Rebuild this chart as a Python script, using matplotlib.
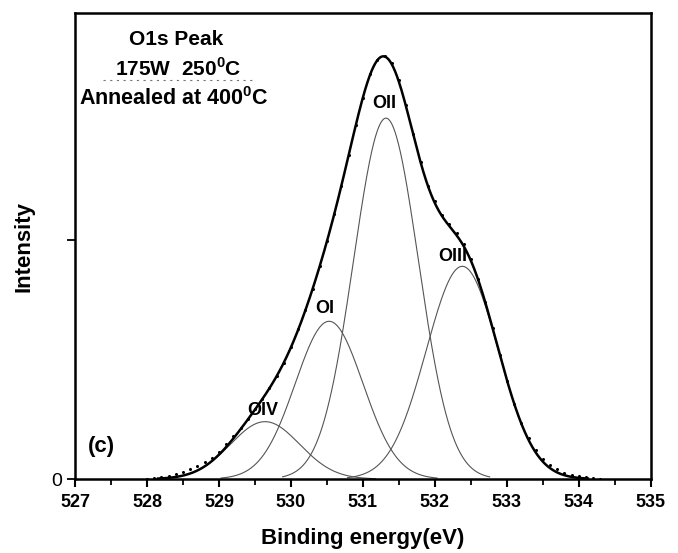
import numpy as np
import matplotlib
matplotlib.use("Agg")
import matplotlib.pyplot as plt
from matplotlib.ticker import MultipleLocator

plt.rcParams['font.family'] = ['Liberation Sans', 'DejaVu Sans']
plt.rcParams['mathtext.fontset'] = 'custom'
plt.rcParams['mathtext.rm'] = 'Liberation Sans'
plt.rcParams['mathtext.bf'] = 'Liberation Sans:bold'

# fitted components (center eV, height, sigma eV)
peak_names = ['OIV', 'OI', 'OII', 'OIII']
peak_centers = [529.64, 530.53, 531.32, 532.38]
peak_heights = [0.24, 0.66, 1.51, 0.89]
peak_sigmas = [0.48, 0.47, 0.45, 0.50]
label_pos = [(529.61, 0.285), (530.47, 0.715), (531.29, 1.57), (532.25, 0.93)]

# measured spectrum (0.1 eV steps)
data_x = np.round(np.arange(528.0, 534.31, 0.1), 1)
data_y = [0.002, 0.004, 0.008, 0.014, 0.020, 0.030, 0.040, 0.055, 0.070, 0.090,
          0.115, 0.145, 0.180, 0.215, 0.252, 0.293, 0.335, 0.382, 0.432, 0.487,
          0.553, 0.626, 0.707, 0.796, 0.893, 0.997, 1.107, 1.225, 1.355, 1.483,
          1.595, 1.693, 1.755, 1.772, 1.742, 1.670, 1.565, 1.445, 1.325, 1.225,
          1.163, 1.105, 1.066, 1.030, 0.985, 0.920, 0.838, 0.740, 0.632, 0.520,
          0.412, 0.315, 0.235, 0.172, 0.122, 0.084, 0.058, 0.040, 0.027, 0.018,
          0.012, 0.007, 0.003, 0.001]

fig = plt.figure(figsize=(6.78, 5.53), dpi=100)
ax = fig.add_axes([0.1106, 0.1338, 0.8494, 0.8427])

x = np.linspace(527.0, 535.0, 1601)
env = np.zeros_like(x)
for c, h, s in zip(peak_centers, peak_heights, peak_sigmas):
    g = h * np.exp(-(x - c) ** 2 / (2 * s ** 2))
    env += g
    m = np.abs(x - c) < 3.2 * s
    ax.plot(x[m], g[m], color='#555555', lw=0.8)

ax.plot(data_x, data_y, ls='none', marker='o', ms=1.2, color='black')
m = env > 0.002
ax.plot(x[m], env[m], color='black', lw=1.8)

for name, (px, py) in zip(peak_names, label_pos):
    ax.text(px, py, name, ha='center', va='center', fontsize=13, fontweight='bold')


def axfrac(px, py):
    # pixel position in the figure -> axes fraction
    return ((px - 75) / 576, (479 - py) / 466)


ax.text(*axfrac(176, 40), 'O1s Peak', transform=ax.transAxes, ha='center', va='center',
        fontsize=15, fontweight='bold')
ax.text(*axfrac(178, 69), r'175W  250$^{\mathbf{0}}$C', transform=ax.transAxes, ha='center',
        va='center', fontsize=15, fontweight='bold')
x0, y0 = axfrac(103, 80)
x1, _ = axfrac(253, 80)
ax.plot([x0, x1], [y0, y0], transform=ax.transAxes, color='#777777', lw=0.8, ls=(0, (2, 4)))
ax.text(*axfrac(174, 99), r'Annealed at 400$^{\mathbf{0}}$C', transform=ax.transAxes,
        ha='center', va='center', fontsize=15.5, fontweight='bold')
ax.text(*axfrac(101, 446), '(c)', transform=ax.transAxes, ha='center', va='center',
        fontsize=16, fontweight='bold')

ax.set_xlim(527, 535)
ax.set_ylim(0, 1.95)
ax.xaxis.set_major_locator(MultipleLocator(1))
ax.xaxis.set_minor_locator(MultipleLocator(0.5))
ax.set_yticks([0, 1])
ax.set_yticklabels(['0', ''])
ax.tick_params(axis='x', which='major', direction='out', length=6, width=1.5, labelsize=13, pad=5)
ax.tick_params(axis='x', which='minor', direction='out', length=4, width=1.3)
ax.tick_params(axis='y', direction='out', length=6, width=1.3, labelsize=14, pad=3)
for lab in ax.get_xticklabels():
    lab.set_fontweight('bold')
for sp in ax.spines.values():
    sp.set_linewidth(1.8)

ax.set_xlabel('Binding energy(eV)', fontsize=16, fontweight='bold', labelpad=12)
ax.set_ylabel('Intensity', fontsize=16, fontweight='bold', labelpad=12)

fig.savefig('out.png', dpi=100)
